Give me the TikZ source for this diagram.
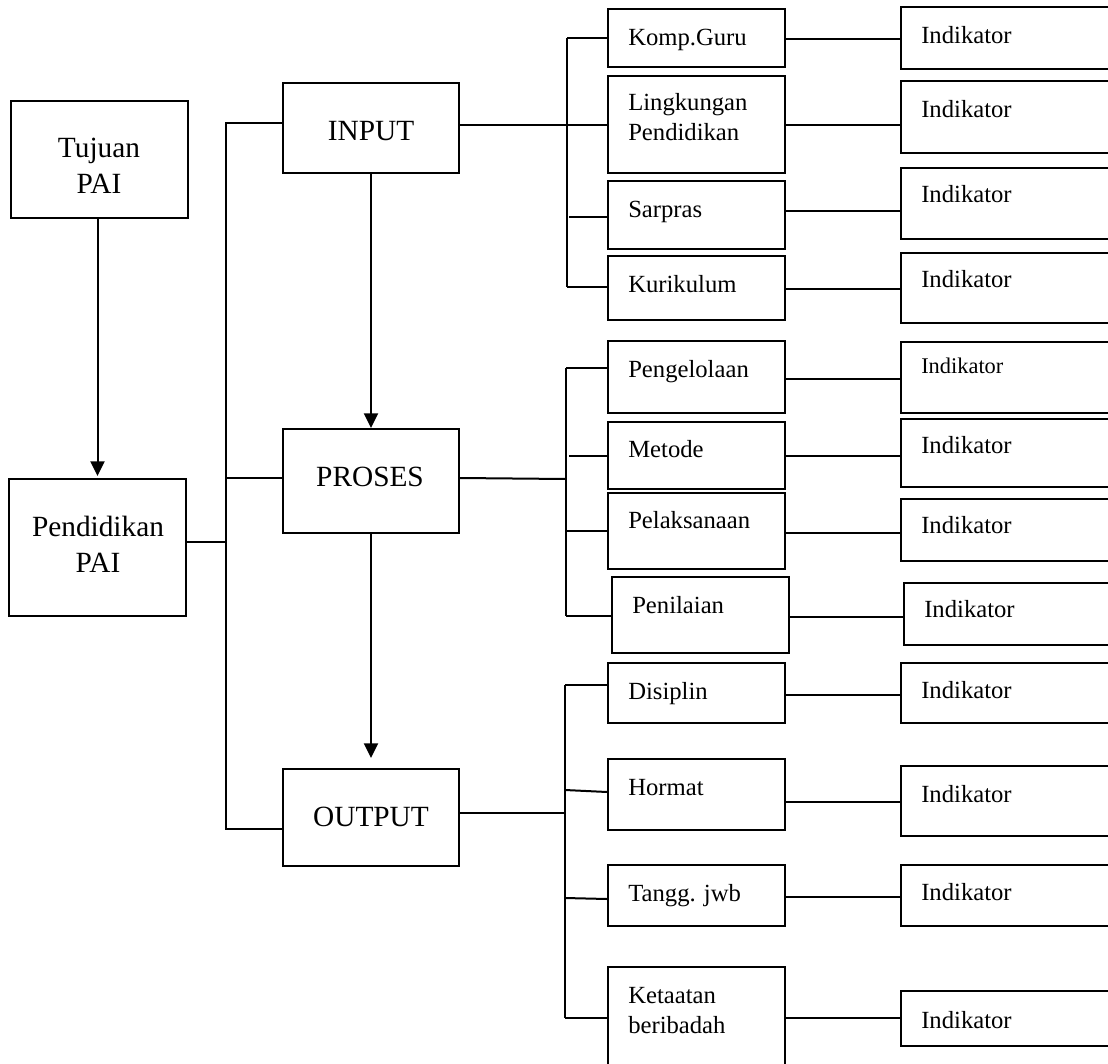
\documentclass[tikz,border=0pt]{standalone}
\usepackage{fontspec}
\setmainfont{Liberation Serif}
\usetikzlibrary{arrows.meta,fit}

% a box spanning two corner points, without text
\newcommand\bx[5]{\node[box, fit={(#2,#3) (#4,#5)}] (#1) {};}

\begin{document}
\begin{tikzpicture}[x=0.75pt,y=-0.75pt,
  box/.style={draw, rectangle, inner sep=0pt, line width=1.5pt},
  big/.style={font=\fontsize{22}{27}\selectfont, inner sep=0pt, align=center},
  small/.style={font=\fontsize{18.5}{22.5}\selectfont, inner sep=0pt, align=left, anchor=base west},
  link/.style={line width=1.5pt},
  flow/.style={link, -{Triangle[width=10.5pt,length=11pt]}}]
\useasboundingbox (0,0) rectangle (1108,1064);
\clip (0,0) rectangle (1108,1064);

% main column (two-line labels are placed by the baseline of their last line)
\bx{tuj}{11}{101}{188}{218}
\bx{inp}{283}{83}{459}{173}
\bx{pend}{9}{479}{186}{616}
\bx{pros}{283}{429}{459}{533}
\bx{out}{283}{769}{459}{866}
\node[big, anchor=base] (tujT) at (99,193) {Tujuan\\PAI};
\node[big, anchor=base] (inpT) at (371,140) {INPUT};
\node[big, anchor=base] (pendT) at (98,572) {Pendidikan\\PAI};
\node[big, anchor=base] (prosT) at (370,486) {PROSES};
\node[big, anchor=base] (outT) at (371,826) {OUTPUT};

% components
\bx{kg}{608}{9}{785}{67}
\bx{lp}{608}{76}{785}{173}
\bx{sar}{608}{181}{785}{249}
\bx{kur}{608}{256}{785}{320}
\bx{pg}{608}{341}{785}{413}
\bx{met}{608}{422}{785}{489}
\bx{pel}{608}{493}{785}{569}
\bx{pen}{612}{577}{789}{653}
\bx{dis}{608}{663}{785}{723}
\bx{hor}{608}{759}{785}{830}
\bx{tj}{608}{865}{785}{926}
\bx{ket}{608}{967}{785}{1080}
\node[small] (kgT) at (628,45) {Komp.Guru};
\node[small] (lpT) at (628,140) {Lingkungan\\Pendidikan};
\node[small] (sarT) at (628,217) {Sarpras};
\node[small] (kurT) at (628,292) {Kurikulum};
\node[small] (pgT) at (628,377) {Pengelolaan};
\node[small] (metT) at (628,457) {Metode};
\node[small] (pelT) at (628,528) {Pelaksanaan};
\node[small] (penT) at (632,613) {Penilaian};
\node[small] (disT) at (628,699) {Disiplin};
\node[small] (horT) at (628,795) {Hormat};
\node[small] (tjT) at (628,901) {Tangg. jwb};
\node[small] (ketT) at (628,1033) {Ketaatan\\beribadah};

% indicator boxes, running off the right edge
\bx{i1}{901}{7}{1125}{69}
\bx{i2}{901}{81}{1125}{153}
\bx{i3}{901}{168}{1125}{239}
\bx{i4}{901}{253}{1125}{323}
\bx{i5}{901}{342}{1125}{413}
\bx{i6}{901}{419}{1125}{487}
\bx{i7}{901}{499}{1125}{561}
\bx{i8}{904}{583}{1125}{645}
\bx{i9}{901}{663}{1125}{723}
\bx{i10}{901}{766}{1125}{836}
\bx{i11}{901}{865}{1125}{926}
\bx{i12}{901}{991}{1125}{1046}
\node[small] (i1T) at (921,43) {Indikator};
\node[small] (i2T) at (921,117) {Indikator};
\node[small] (i3T) at (921,202) {Indikator};
\node[small] (i4T) at (921,287) {Indikator};
\node[small, font=\fontsize{16.8}{20}\selectfont] (i5T) at (921,373) {Indikator};
\node[small] (i6T) at (921,453) {Indikator};
\node[small] (i7T) at (921,533) {Indikator};
\node[small] (i8T) at (924,617) {Indikator};
\node[small] (i9T) at (921,698) {Indikator};
\node[small] (i10T) at (921,802) {Indikator};
\node[small] (i11T) at (921,900) {Indikator};
\node[small] (i12T) at (921,1028) {Indikator};

% vertical flow
\draw[flow, shorten >=1.5pt] (pend.north |- tuj.south) -- (pend.north);
\draw[flow] (inp.south) -- (pros.north);
\draw[flow, shorten >=7.5pt] (pros.south) -- (out.north);

% left bus joining Pendidikan PAI to the three stages
\coordinate (busT) at (226,123);
\coordinate (busB) at (226,829);
\draw[link] (inp.west |- busT) -- (busT) -- (busB) -- (out.west |- busB);
\draw[link] (pros.west |- 0,478) -- (busT |- 0,478);
\draw[link] (pend.east |- 0,542) -- (busT |- 0,542);

% INPUT bracket
\coordinate (ia) at (567,38);
\coordinate (ib) at (567,287);
\draw[link] (ia) -- (ib);
\draw[link] (inp.east |- 0,125) -- (lp.west |- 0,125);
\draw[link] (ia) -- (kg.west |- ia);
\draw[link] (569,217) -- (sar.west |- 0,217);
\draw[link] (ib) -- (kur.west |- ib);

% PROSES bracket
\coordinate (pa) at (566,368);
\coordinate (pb) at (566,616);
\draw[link] (pa) -- (pb);
\draw[link] (pros.east |- 0,478) -- (pa |- 0,479);
\draw[link] (pa) -- (pg.west |- pa);
\draw[link] (569,456) -- (met.west |- 0,456);
\draw[link] (pa |- 0,531) -- (pel.west |- 0,531);
\draw[link] (pb) -- (pen.west |- pb);

% OUTPUT bracket
\coordinate (oa) at (565,685);
\coordinate (ob) at (565,1018);
\draw[link] (oa) -- (ob);
\draw[link] (out.east |- 0,813) -- (oa |- 0,813);
\draw[link] (oa) -- (dis.west |- oa);
\draw[link] (oa |- 0,790) -- (hor.west |- 0,792);
\draw[link] (oa |- 0,898) -- (tj.west |- 0,899);
\draw[link] (ob) -- (ket.west |- ob);

% components to indicators
\draw[link] (kg.east |- 0,39) -- (i1.west |- 0,39);
\draw[link] (lp.east |- 0,125) -- (i2.west |- 0,125);
\draw[link] (sar.east |- 0,211) -- (i3.west |- 0,211);
\draw[link] (kur.east |- 0,289) -- (i4.west |- 0,289);
\draw[link] (pg.east |- 0,379) -- (i5.west |- 0,379);
\draw[link] (met.east |- 0,456) -- (i6.west |- 0,456);
\draw[link] (pel.east |- 0,533) -- (i7.west |- 0,533);
\draw[link] (pen.east |- 0,617) -- (i8.west |- 0,617);
\draw[link] (dis.east |- 0,695) -- (i9.west |- 0,695);
\draw[link] (hor.east |- 0,802) -- (i10.west |- 0,802);
\draw[link] (tj.east |- 0,897) -- (i11.west |- 0,897);
\draw[link] (ket.east |- 0,1018) -- (i12.west |- 0,1018);
\end{tikzpicture}
\end{document}
